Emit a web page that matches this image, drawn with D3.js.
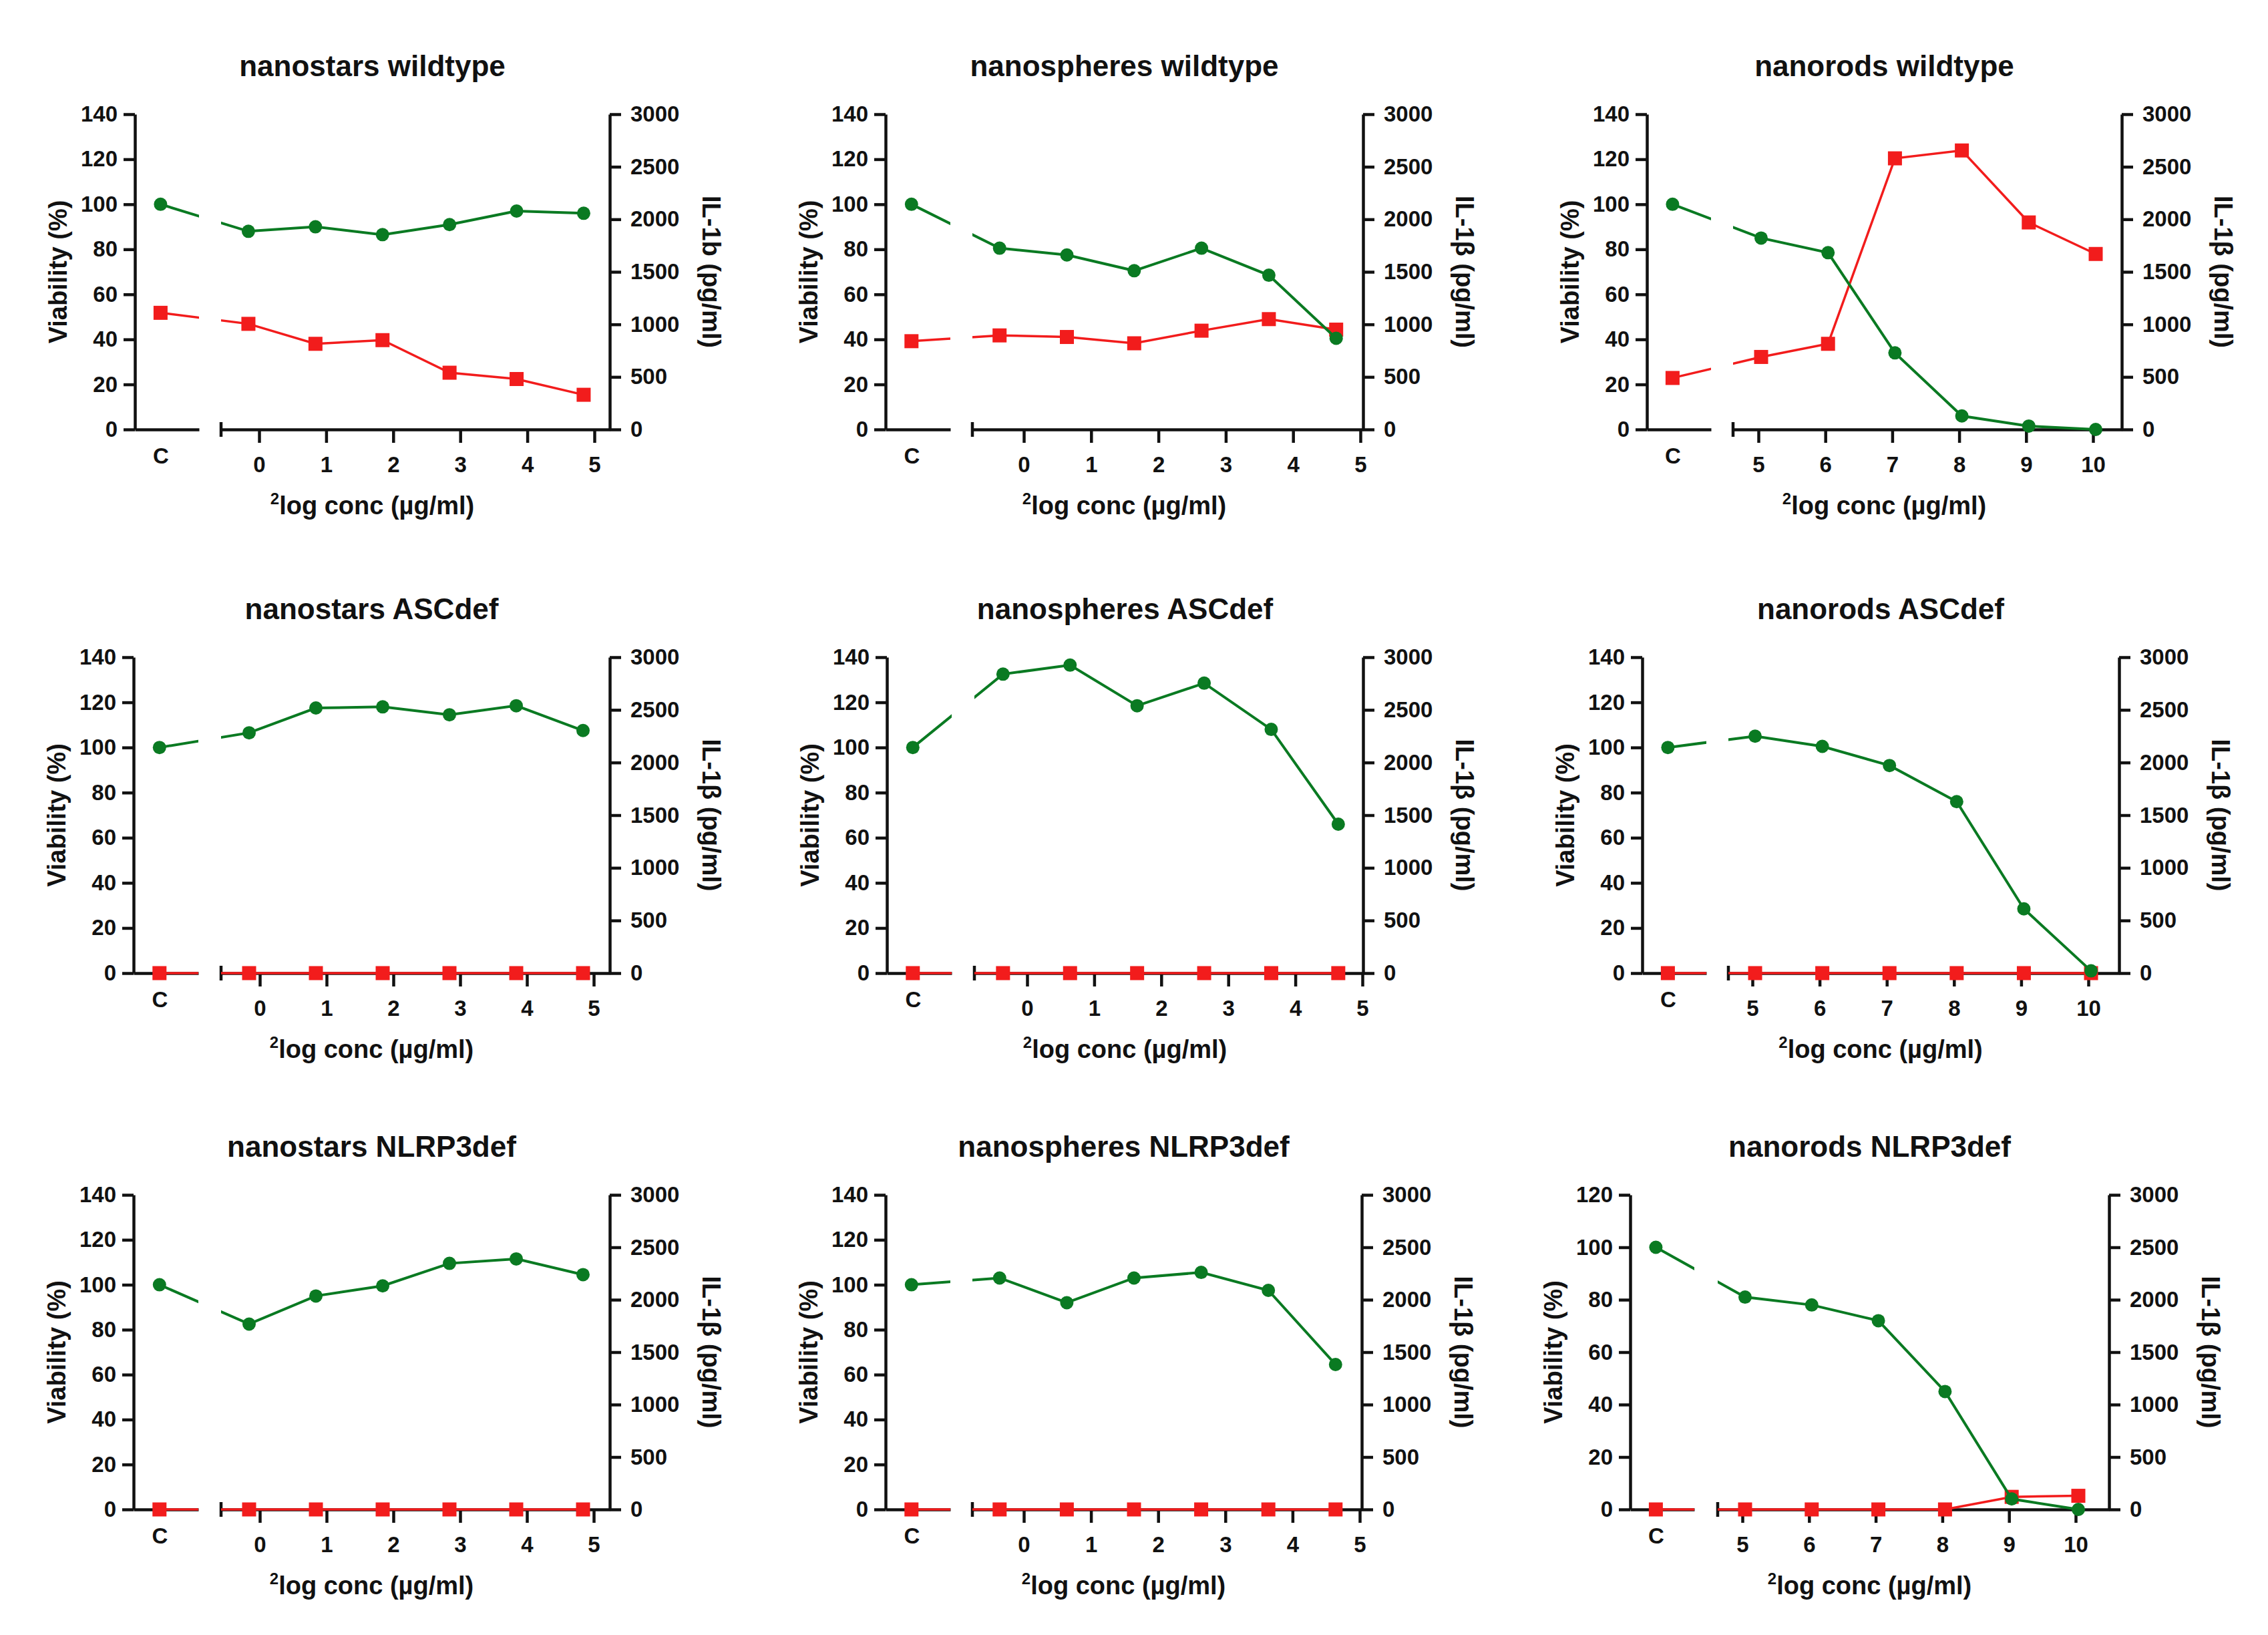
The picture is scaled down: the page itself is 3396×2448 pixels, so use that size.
<!DOCTYPE html>
<html>
<head>
<meta charset="utf-8">
<script src="https://cdn.jsdelivr.net/npm/d3@7"></script>
<style>
body { margin: 0; background: #fff; }
text { font-family: "Liberation Sans", Arial, sans-serif; font-weight: bold; fill: #111; }
</style>
</head>
<body>
<svg width="3396" height="2448"></svg>
<script>
// **** data ****

var titles = ["nanostars wildtype", "nanospheres wildtype", "nanorods wildtype",
              "nanostars ASCdef", "nanospheres ASCdef", "nanorods ASCdef",
              "nanostars NLRP3def", "nanospheres NLRP3def", "nanorods NLRP3def"];
var ilLabels = ["IL-1b (pg/ml)", "IL-1β (pg/ml)", "IL-1β (pg/ml)",
                "IL-1β (pg/ml)", "IL-1β (pg/ml)", "IL-1β (pg/ml)",
                "IL-1β (pg/ml)", "IL-1β (pg/ml)", "IL-1β (pg/ml)"];
var controlLabel = ["C"];

// 2log concentrations (control C is drawn separately)
var concStars   = [-0.16, 0.84, 1.84, 2.84, 3.84, 4.84];
var concSpheres = [-0.36, 0.64, 1.64, 2.64, 3.64, 4.64];
var concRods    = [5.04, 6.04, 7.04, 8.04, 9.04, 10.04];

var ticksLow  = [0, 1, 2, 3, 4, 5];
var ticksHigh = [5, 6, 7, 8, 9, 10];
var viabTicks140 = [0, 20, 40, 60, 80, 100, 120, 140];
var viabTicks120 = [0, 20, 40, 60, 80, 100, 120];
var ilTicks = [0, 500, 1000, 1500, 2000, 2500, 3000];

// viability (%), first value = control C
var viabStarsWT     = [100, 88, 90, 86.5, 91, 97, 96];
var viabSpheresWT   = [100, 80.5, 77.5, 70.5, 80.5, 68.5, 40.5];
var viabRodsWT      = [100, 85, 78.5, 34, 6, 1.5, 0];
var viabStarsASC    = [100, 106.5, 117.5, 118, 114.5, 118.5, 107.5];
var viabSpheresASC  = [100, 132.5, 136.5, 118.5, 128.5, 108, 66];
var viabRodsASC     = [100, 105, 100.5, 92, 76, 28.5, 1];
var viabStarsNLRP   = [100, 82.5, 95, 99.5, 109.5, 111.5, 104.5];
var viabSpheresNLRP = [100, 103, 92, 103, 105.5, 97.5, 64.5];
var viabRodsNLRP    = [100, 81, 78, 72, 45, 4, 0];

// IL-1beta (pg/ml), first value = control C
var ilStarsWT   = [1110, 1005, 815, 850, 540, 480, 330];
var ilSpheresWT = [840, 895, 880, 820, 940, 1050, 950];
var ilRodsWT    = [490, 690, 815, 2580, 2655, 1970, 1670];
var ilStarsASC    = [0, 0, 0, 0, 0, 0, 0];
var ilSpheresASC  = [0, 0, 0, 0, 0, 0, 0];
var ilRodsASC     = [0, 0, 0, 0, 0, 0, 0];
var ilStarsNLRP   = [0, 0, 0, 0, 0, 0, 0];
var ilSpheresNLRP = [0, 0, 0, 0, 0, 0, 0];
var ilRodsNLRP    = [0, 0, 0, 0, 0, 120, 130];

var panels = [
    {conc: concStars,   ticks: ticksLow,  vMax: 140, vTicks: viabTicks140, viab: viabStarsWT,     il: ilStarsWT},
    {conc: concSpheres, ticks: ticksLow,  vMax: 140, vTicks: viabTicks140, viab: viabSpheresWT,   il: ilSpheresWT},
    {conc: concRods,    ticks: ticksHigh, vMax: 140, vTicks: viabTicks140, viab: viabRodsWT,      il: ilRodsWT},
    {conc: concStars,   ticks: ticksLow,  vMax: 140, vTicks: viabTicks140, viab: viabStarsASC,    il: ilStarsASC},
    {conc: concSpheres, ticks: ticksLow,  vMax: 140, vTicks: viabTicks140, viab: viabSpheresASC,  il: ilSpheresASC},
    {conc: concRods,    ticks: ticksHigh, vMax: 140, vTicks: viabTicks140, viab: viabRodsASC,     il: ilRodsASC},
    {conc: concStars,   ticks: ticksLow,  vMax: 140, vTicks: viabTicks140, viab: viabStarsNLRP,   il: ilStarsNLRP},
    {conc: concSpheres, ticks: ticksLow,  vMax: 140, vTicks: viabTicks140, viab: viabSpheresNLRP, il: ilSpheresNLRP},
    {conc: concRods,    ticks: ticksHigh, vMax: 120, vTicks: viabTicks120, viab: viabRodsNLRP,    il: ilRodsNLRP}
];

// **** layout (pixels) ****
// L/R = y axes, s1e = end of control segment, s2s = start of conc segment,
// two ticks (tA at pA, tB at pB) pin the concentration scale
var rows = [[171, 643], [984, 1457], [1789, 2260]];
var geom = [
    {L: 202,  R: 913,  s1e: 298,  s2s: 331,  tA: 0, pA: 388,  tB: 5,  pB: 890},
    {L: 1326, R: 2041, s1e: 1423, s2s: 1456, tA: 0, pA: 1533, tB: 5,  pB: 2037},
    {L: 2466, R: 3177, s1e: 2562, s2s: 2595, tA: 5, pA: 2633, tB: 10, pB: 3134},
    {L: 200,  R: 913,  s1e: 297,  s2s: 331,  tA: 0, pA: 389,  tB: 5,  pB: 889},
    {L: 1328, R: 2041, s1e: 1425, s2s: 1459, tA: 0, pA: 1538, tB: 5,  pB: 2040},
    {L: 2459, R: 3173, s1e: 2555, s2s: 2588, tA: 5, pA: 2624, tB: 10, pB: 3127},
    {L: 200,  R: 913,  s1e: 297,  s2s: 331,  tA: 0, pA: 389,  tB: 5,  pB: 889},
    {L: 1326, R: 2039, s1e: 1423, s2s: 1456, tA: 0, pA: 1533, tB: 5,  pB: 2036},
    {L: 2441, R: 3158, s1e: 2537, s2s: 2572, tA: 5, pA: 2609, tB: 10, pB: 3108}
];

var green = "#0a7a22", red = "#f21c1c";
var tickFont = 33, titleFont = 44, labelFont = 38;
var plain = d3.format("d");

var svg = d3.select("svg");
svg.append("rect").attr("width", 3396).attr("height", 2448).attr("fill", "#fff");

function styleAxis(g) {
    g.selectAll("path.domain, line").attr("stroke", "#111").attr("stroke-width", 4.5);
    g.selectAll("text").style("font-size", tickFont + "px").attr("fill", "#111");
}

panels.forEach(function(p, i) {
    var gm = geom[i];
    var top = rows[Math.floor(i / 3)][0], bottom = rows[Math.floor(i / 3)][1];
    var g = svg.append("g").attr("class", "panel");

    // scales
    var yViab = d3.scaleLinear().domain([0, p.vMax]).range([bottom, top]);
    var yIl = d3.scaleLinear().domain([0, 3000]).range([bottom, top]);
    var xBase = d3.scaleLinear().domain([gm.tA, gm.tB]).range([gm.pA, gm.pB]);
    var xConc = d3.scaleLinear()
        .domain([xBase.invert(gm.s2s), xBase.invert(gm.R)]).range([gm.s2s, gm.R]);
    var xCtrl = d3.scalePoint().domain(controlLabel).range([gm.L, gm.s1e]).align(0.4);

    // axes
    g.append("g").attr("transform", "translate(" + gm.L + ",0)")
        .call(d3.axisLeft(yViab).tickValues(p.vTicks).tickFormat(plain)
            .tickSize(17).tickSizeOuter(0).tickPadding(9))
        .call(styleAxis);
    g.append("g").attr("transform", "translate(" + gm.R + ",0)")
        .call(d3.axisRight(yIl).tickValues(ilTicks).tickFormat(plain)
            .tickSize(17).tickSizeOuter(0).tickPadding(14))
        .call(styleAxis);

    var axC = g.append("g").attr("transform", "translate(0," + bottom + ")")
        .call(d3.axisBottom(xCtrl).tickSize(0).tickSizeOuter(0))
        .call(styleAxis);
    axC.selectAll("text").attr("y", 51).attr("dy", 0);

    var axX = g.append("g").attr("transform", "translate(0," + bottom + ")")
        .call(d3.axisBottom(xConc).tickValues(p.ticks).tickFormat(plain)
            .tickSize(20).tickSizeOuter(0))
        .call(styleAxis);
    axX.selectAll("text").attr("y", 64).attr("dy", 0);
    // end cap of the broken axis
    g.append("line")
        .attr("x1", gm.s2s).attr("x2", gm.s2s)
        .attr("y1", bottom - 11).attr("y2", bottom + 11)
        .attr("stroke", "#111").attr("stroke-width", 4.5);

    // titles
    var mid = (gm.L + gm.R) / 2;
    g.append("text").attr("x", mid).attr("y", top - 57)
        .attr("text-anchor", "middle").style("font-size", titleFont + "px")
        .text(titles[i]);

    var xt = g.append("text").attr("x", mid).attr("y", bottom + 127)
        .attr("text-anchor", "middle").style("font-size", labelFont + "px");
    xt.append("tspan").style("font-size", "24px").attr("dy", -15).text("2");
    xt.append("tspan").attr("dy", 15).text("log conc (µg/ml)");

    g.append("text")
        .attr("transform", "translate(" + (gm.L - 115) + "," + (top + bottom) / 2 + ") rotate(-90)")
        .attr("text-anchor", "middle").attr("dy", "0.35em")
        .style("font-size", labelFont + "px")
        .text("Viability (%)");

    g.append("text")
        .attr("transform", "translate(" + (gm.R + 152) + "," + (top + bottom) / 2 + ") rotate(90)")
        .attr("text-anchor", "middle").attr("dy", "0.35em")
        .style("font-size", labelFont + "px")
        .text(ilLabels[i]);

    // clip: lines are interrupted in the axis break
    var clipId = "clip" + i;
    var clip = svg.append("clipPath").attr("id", clipId);
    clip.append("rect").attr("x", gm.L).attr("y", 0).attr("width", gm.s1e - gm.L).attr("height", 2448);
    clip.append("rect").attr("x", gm.s2s).attr("y", 0).attr("width", gm.R - gm.s2s).attr("height", 2448);

    function points(vals, yScale) {
        return vals.map(function(v, j) {
            var x = j === 0 ? xCtrl(controlLabel[0]) : xConc(p.conc[j - 1]);
            return [x, yScale(v)];
        });
    }
    var line = d3.line();

    // IL-1beta (red squares)
    var ilPts = points(p.il, yIl);
    g.append("path").attr("d", line(ilPts))
        .attr("fill", "none").attr("stroke", red).attr("stroke-width", 3.5)
        .attr("clip-path", "url(#" + clipId + ")");
    g.selectAll("rect.il").data(ilPts).enter().append("rect")
        .attr("class", "il")
        .attr("x", function(d) { return d[0] - 10.5; })
        .attr("y", function(d) { return d[1] - 10.5; })
        .attr("width", 21).attr("height", 21)
        .attr("fill", red);

    // viability (green circles)
    var vPts = points(p.viab, yViab);
    g.append("path").attr("d", line(vPts))
        .attr("fill", "none").attr("stroke", green).attr("stroke-width", 4)
        .attr("clip-path", "url(#" + clipId + ")");
    g.selectAll("circle.viab").data(vPts).enter().append("circle")
        .attr("class", "viab")
        .attr("cx", function(d) { return d[0]; })
        .attr("cy", function(d) { return d[1]; })
        .attr("r", 10)
        .attr("fill", green);
});
</script>
</body>
</html>
